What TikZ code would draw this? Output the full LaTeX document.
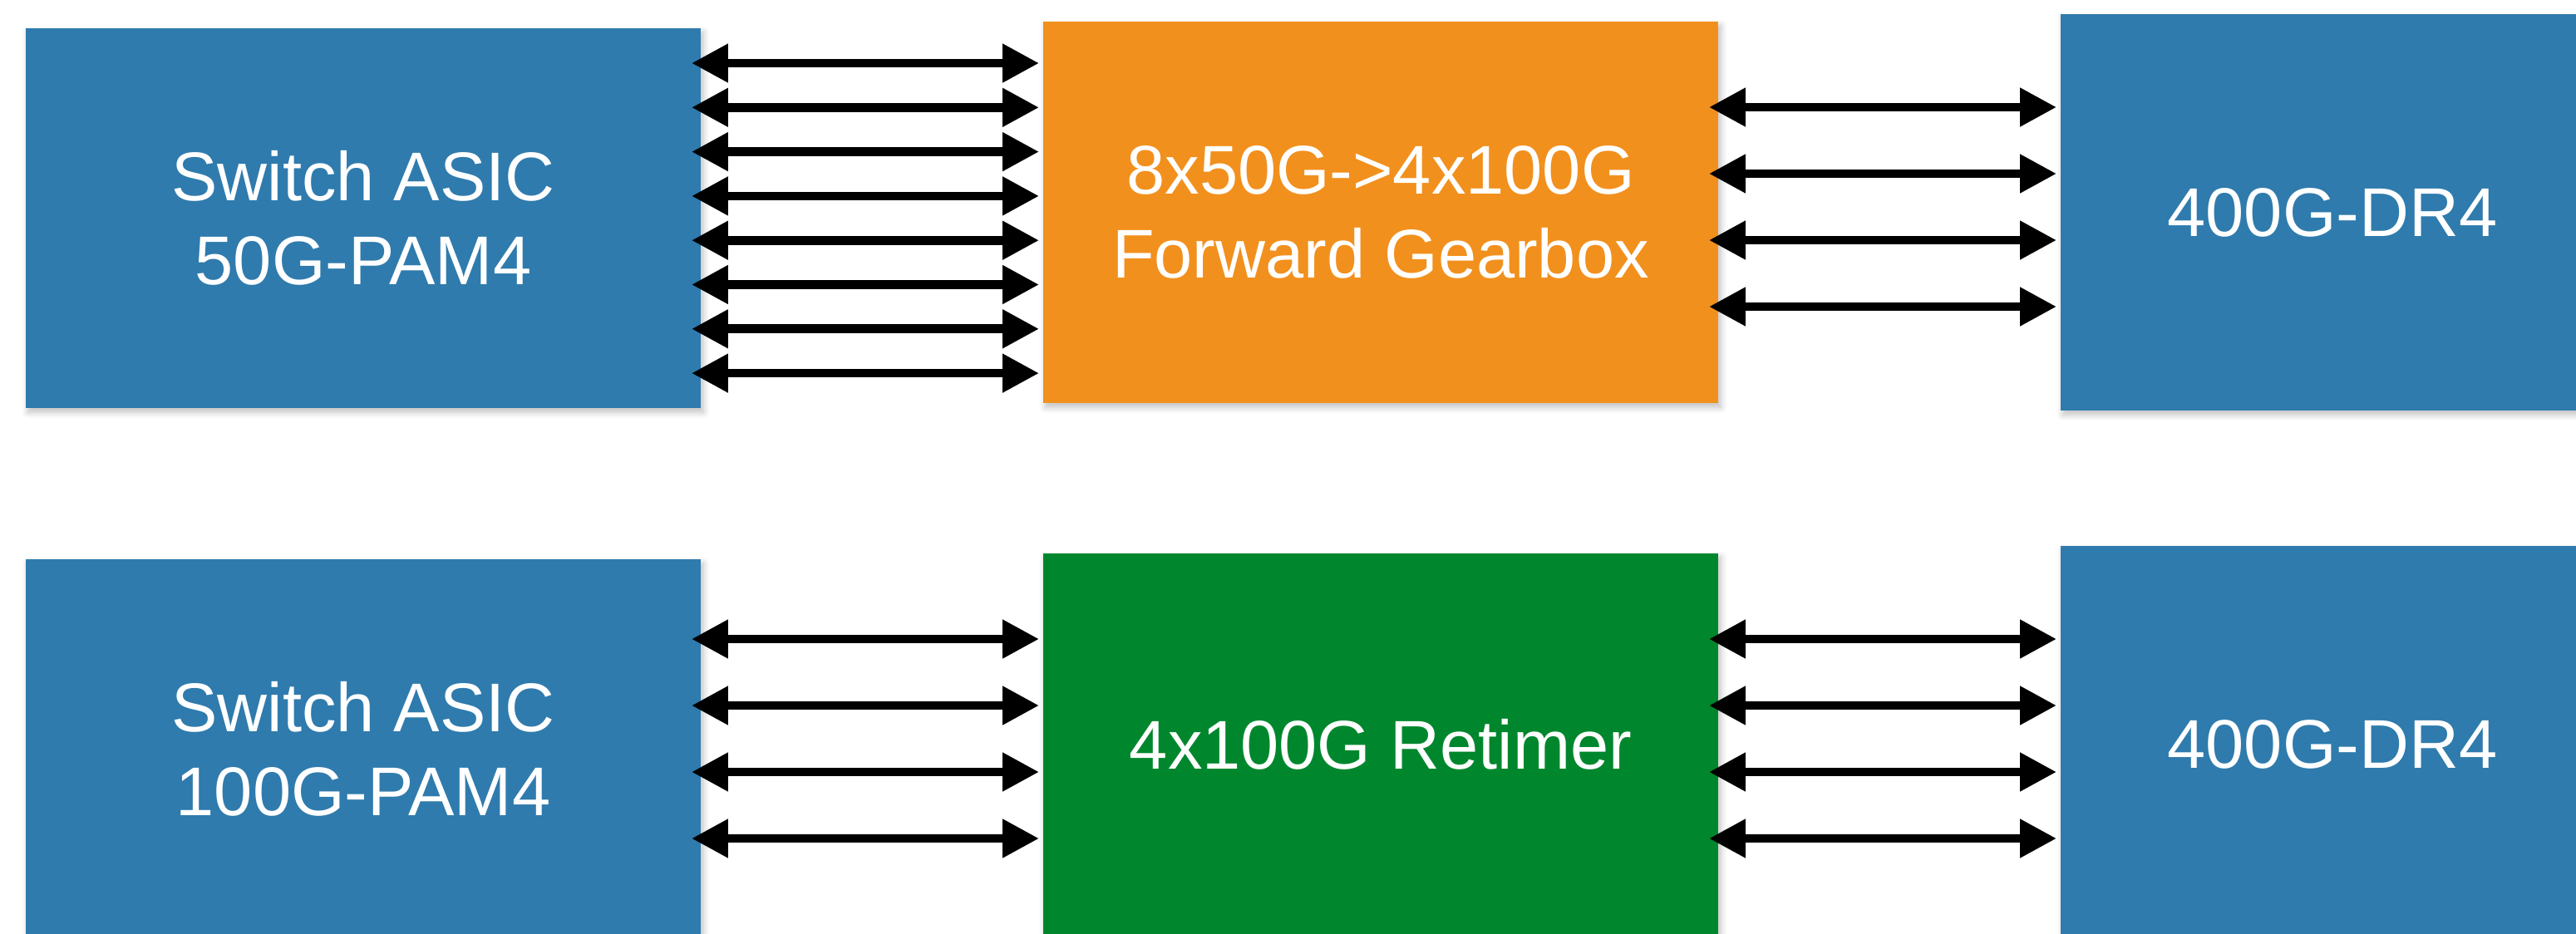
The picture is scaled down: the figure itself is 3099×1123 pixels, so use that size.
\documentclass[tikz,border=0pt]{standalone}
\usepackage{fontspec}
\setmainfont{Liberation Sans}
\usetikzlibrary{arrows.meta,shadows.blur}

\definecolor{chipblue}{RGB}{47,123,173}
\definecolor{gearorange}{RGB}{242,144,29}
\definecolor{retimergreen}{RGB}{0,135,45}

\tikzset{
  block/.style={rectangle, inner sep=0pt, text=white, align=center,
    font=\fontsize{23.6}{28.8}\selectfont,
    blur shadow={shadow xshift=0.03cm, shadow yshift=-0.05cm,
      shadow blur steps=6, shadow opacity=25}},
  chip/.style={block, fill=chipblue},
  lane/.style={line width=0.107cm, {Triangle[length=0.44cm,width=0.44cm]}-{Triangle[length=0.44cm,width=0.44cm]},
    shorten <=-0.12cm, shorten >=0.04cm}
}

\begin{document}
\begin{tikzpicture}[x=0.01cm,y=-0.01cm]
  \useasboundingbox (0,0) rectangle (3099,1123);
  \clip (0,0) rectangle (3099,1123);

  % upper chain: 50G ASIC -> forward gearbox -> optics
  \node[chip, minimum width=8.12cm, minimum height=4.57cm] (asicA) at (437,262.5)
    {Switch ASIC\\50G-PAM4};
  \node[block, fill=gearorange, minimum width=8.12cm, minimum height=4.59cm] (gear) at (1661,255.5)
    {8x50G->4x100G\\Forward Gearbox};
  \node[chip, minimum width=6.54cm, minimum height=4.77cm] (drA) at (2806,255.5)
    {400G-DR4};

  % lower chain: 100G ASIC -> retimer -> optics
  \node[chip, minimum width=8.12cm, minimum height=4.57cm] (asicB) at (437,901.5)
    {Switch ASIC\\100G-PAM4};
  \node[block, fill=retimergreen, minimum width=8.12cm, minimum height=4.59cm] (retimer) at (1661,895.5)
    {4x100G Retimer};
  \node[chip, minimum width=6.54cm, minimum height=4.77cm] (drB) at (2806,895.5)
    {400G-DR4};

  % eight 50G lanes into the gearbox
  \foreach \y in {76,129.3,182.6,235.9,289.2,342.5,395.8,449.1}
    \draw[lane] (asicA.east |- 0,\y) -- (gear.west |- 0,\y);
  % four 100G lanes out of the gearbox
  \foreach \y in {129,209,289,369}
    \draw[lane] (gear.east |- 0,\y) -- (drA.west |- 0,\y);

  % four 100G lanes on each side of the retimer
  \foreach \y in {769,849,929,1009} {
    \draw[lane] (asicB.east |- 0,\y) -- (retimer.west |- 0,\y);
    \draw[lane] (retimer.east |- 0,\y) -- (drB.west |- 0,\y);
  }
\end{tikzpicture}
\end{document}
